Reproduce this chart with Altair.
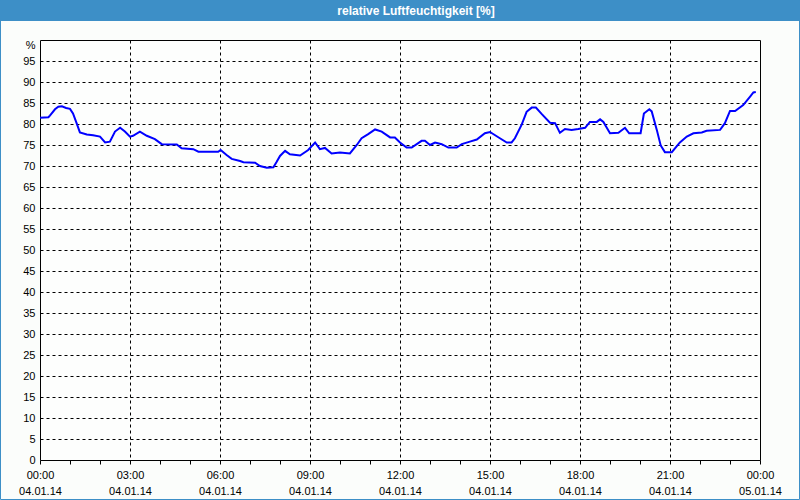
import altair as alt
import pandas as pd

hours = [0.0, 0.28, 0.33, 0.5, 0.61, 0.73, 0.87, 1.0, 1.1, 1.22, 1.33, 1.56, 1.77, 2.0,
         2.17, 2.33, 2.5, 2.67, 2.83, 3.0, 3.1, 3.33, 3.56, 3.83, 4.06, 4.56, 4.72, 5.11,
         5.28, 5.94, 6.02, 6.22, 6.39, 6.67, 6.78, 7.17, 7.33, 7.56, 7.78, 7.89, 8.0, 8.17,
         8.33, 8.67, 8.94, 9.17, 9.33, 9.5, 9.72, 10.0, 10.33, 10.56, 10.72, 10.94, 11.17,
         11.39, 11.67, 11.83, 12.0, 12.22, 12.39, 12.72, 12.83, 13.0, 13.17, 13.39, 13.61,
         13.89, 14.06, 14.33, 14.56, 14.83, 15.0, 15.33, 15.56, 15.72, 15.83, 16.06, 16.22,
         16.39, 16.53, 16.72, 17.0, 17.17, 17.33, 17.5, 17.72, 17.94, 18.17, 18.33, 18.56,
         18.67, 18.78, 19.0, 19.28, 19.5, 19.64, 20.02, 20.13, 20.31, 20.39, 20.56, 20.69,
         20.83, 21.06, 21.33, 21.56, 21.78, 22.06, 22.22, 22.67, 22.83, 23.0, 23.17, 23.44,
         23.67, 23.78, 23.86]
humidity = [81.5, 81.6, 82.0, 83.5, 84.1, 84.2, 83.8, 83.6, 82.5, 80.2, 78.0, 77.5, 77.3, 77.0,
            75.6, 75.8, 78.2, 79.1, 78.2, 77.0, 77.2, 78.2, 77.2, 76.4, 75.2, 75.1, 74.2, 74.0,
            73.4, 73.4, 73.8, 72.6, 71.7, 71.2, 70.9, 70.8, 70.0, 69.6, 69.7, 71.0, 72.4, 73.6,
            72.8, 72.5, 73.8, 75.6, 74.0, 74.3, 73.0, 73.2, 73.0, 75.0, 76.6, 77.6, 78.7,
            78.2, 76.8, 76.8, 75.6, 74.4, 74.4, 76.0, 76.0, 75.0, 75.6, 75.2, 74.4,
            74.4, 75.2, 75.8, 76.3, 77.8, 78.1, 76.6, 75.6, 75.6, 76.6, 79.9, 82.9,
            83.9, 83.9, 82.4, 80.3, 80.2, 77.9, 78.8, 78.6, 78.8, 79.1, 80.5, 80.5,
            81.1, 80.5, 77.8, 77.9, 79.1, 77.8, 77.8, 82.5, 83.5, 83.0, 78.6, 74.9,
            73.3, 73.3, 75.6, 77.0, 77.8, 78.0, 78.4, 78.6, 80.2, 83.1, 83.1, 84.5,
            86.5, 87.5, 87.6]

title_text = "relative Luftfeuchtigkeit [%]"
x_ticks = list(range(0, 25))
y_ticks = list(range(0, 101, 5))

df = pd.DataFrame({"h": hours, "rh": humidity})
one = pd.DataFrame({"t": [title_text]})

FONT = "Liberation Sans"
BLUE = "#3d8fc7"

x_enc = alt.X(
    "h:Q",
    scale=alt.Scale(domain=[0, 24], nice=False, zero=False),
    axis=alt.Axis(
        values=x_ticks,
        title=None,
        domain=False,
        ticks=True,
        tickSize=4,
        tickColor="black",
        labelExpr="datum.value % 3 != 0 ? '' : [(datum.value == 24 ? '00' : (datum.value < 10 ? '0' : '') + datum.value) + ':00', datum.value == 24 ? '05.01.14' : '04.01.14']",
        labelLineHeight=16,
        labelPadding=5,
        labelBaseline="top",
        labelFontSize=11,
        labelFont=FONT,
        labelColor="black",
        labelFlush=False,
        labelOverlap=False,
        grid=True,
        gridColor="black",
        gridDash=[3, 3],
        gridOpacity={"condition": {"test": "datum.value % 3 == 0 && datum.value > 0 && datum.value < 24", "value": 1}, "value": 0},
    ),
)

y_enc = alt.Y(
    "rh:Q",
    scale=alt.Scale(domain=[0, 100], nice=False),
    axis=alt.Axis(
        values=y_ticks,
        title=None,
        domain=False,
        ticks=False,
        labelPadding=5,
        labelExpr="datum.value == 100 ? '%' : datum.label",
        labelOffset={"condition": {"test": "datum.value == 100", "value": 5}, "value": 0},
        labelFontSize=11,
        labelFont=FONT,
        labelColor="black",
        labelFlush=False,
        labelOverlap=False,
        grid=True,
        gridColor="black",
        gridDash=[3, 3],
        gridOpacity={"condition": {"test": "datum.value > 0 && datum.value < 100", "value": 1}, "value": 0},
    ),
)

line = alt.Chart(df).mark_line(color="#0000ff", strokeWidth=2, clip=True).encode(x=x_enc, y=y_enc)

bar = alt.Chart(one).mark_rect(color=BLUE, fill=BLUE, strokeWidth=0).encode(
    x=alt.value(-40), x2=alt.value(760), y=alt.value(-40), y2=alt.value(-19)
)
frame = alt.Chart(one).mark_rect(fillOpacity=0, stroke=BLUE, strokeWidth=1).encode(
    x=alt.value(-39.5), x2=alt.value(759.5), y=alt.value(-39.5), y2=alt.value(459.5)
)
title = alt.Chart(one).mark_text(
    color="white", font=FONT, fontSize=12, fontWeight="bold", align="center", baseline="middle"
).encode(text="t:N", x=alt.value(376), y=alt.value(-29.5))

chart = alt.layer(line, bar, frame, title).properties(
    width=720,
    height=420,
    autosize=alt.AutoSizeParams(type="none"),
    padding={"left": 40, "top": 40, "right": 40, "bottom": 40},
    background="#fbfdfb",
).configure_view(stroke="black", strokeWidth=1, fill="#fdfefd")

chart.save("out.html", embed_options={"renderer": "svg", "actions": False})
